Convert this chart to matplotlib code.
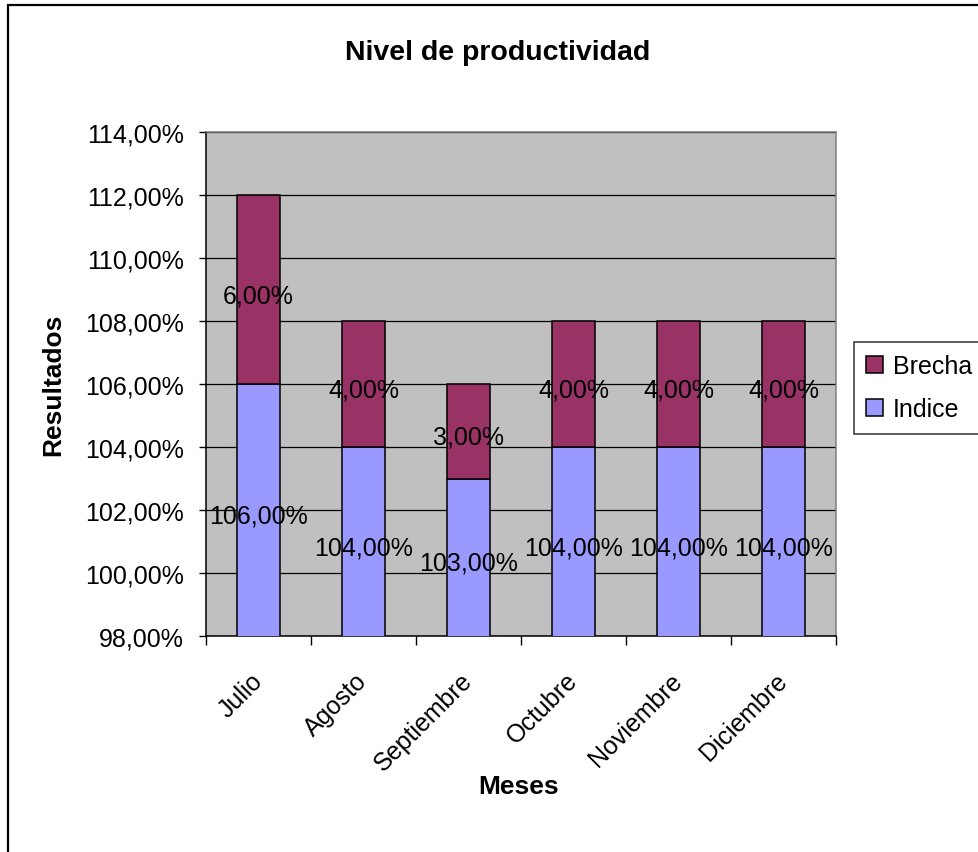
"""Stacked bar chart: Nivel de productividad por mes."""

import matplotlib

matplotlib.use("Agg")
import matplotlib.pyplot as plt
from matplotlib.patches import Rectangle
from matplotlib.ticker import FixedLocator, FuncFormatter

plt.rcParams["font.family"] = ["Liberation Sans", "DejaVu Sans"]

MESES = ["Julio", "Agosto", "Septiembre", "Octubre", "Noviembre", "Diciembre"]
INDICE = [106.0, 104.0, 103.0, 104.0, 104.0, 104.0]
BRECHA = [6.0, 4.0, 3.0, 4.0, 4.0, 4.0]
Y_TICKS = [98, 100, 102, 104, 106, 108, 110, 112, 114]

COLOR_INDICE = "#9999FF"
COLOR_BRECHA = "#993366"
PLOT_BG = "#C0C0C0"

W, H = 979, 853


def pct(value, _pos=None):
    return f"{value:.2f}".replace(".", ",") + "%"


fig = plt.figure(figsize=(W / 100, H / 100), dpi=100)
fig.patch.set_facecolor("white")

# chart border (only left and top edges fall inside the canvas)
fig.add_artist(Rectangle((8.5 / W, -0.1), 1.2, 1 - 5.5 / H + 0.1,
                         transform=fig.transFigure, fill=False,
                         edgecolor="black", linewidth=1.6))

ax = fig.add_axes([206 / W, 1 - 637 / H, (836 - 206) / W, (637 - 133) / H])
ax.set_facecolor(PLOT_BG)

x = list(range(len(MESES)))
ymin, ymax = Y_TICKS[0], Y_TICKS[-1]

ax.bar(x, INDICE, width=0.41, color=COLOR_INDICE, edgecolor="black",
       linewidth=1.1, label="Indice", zorder=3)
ax.bar(x, BRECHA, width=0.41, bottom=INDICE, color=COLOR_BRECHA,
       edgecolor="black", linewidth=1.1, label="Brecha", zorder=3)

# value labels sit in the middle of the visible part of each segment
for xi, base, gap in zip(x, INDICE, BRECHA):
    for y_mid, value in (((max(ymin, 0) + base) / 2, base),
                         (base + gap / 2, gap)):
        ax.annotate(pct(value), (xi, y_mid), xytext=(0, -4),
                    textcoords="offset points", ha="center", va="center",
                    fontsize=18, zorder=4)

ax.set_xlim(-0.5, len(MESES) - 0.5)
ax.set_ylim(ymin, ymax)
ax.yaxis.set_major_locator(FixedLocator(Y_TICKS))
ax.yaxis.set_major_formatter(FuncFormatter(pct))
ax.grid(axis="y", color="black", linewidth=0.9, zorder=1)
ax.set_axisbelow(True)

ax.set_xticks(x)
ax.set_xticklabels(MESES, rotation=45, ha="right", va="center",
                   rotation_mode="anchor")
ax.set_xticks([i - 0.5 for i in range(len(MESES) + 1)], minor=True)
ax.tick_params(axis="x", which="major", length=0, pad=29, labelsize=18)
ax.tick_params(axis="x", which="minor", length=6.5, width=1.0,
               direction="out")
ax.tick_params(axis="y", length=5, width=1.0, direction="out", pad=11,
               labelsize=18)

for side in ("left", "bottom"):
    ax.spines[side].set_color("black")
    ax.spines[side].set_linewidth(1.1)
for side in ("top", "right"):
    ax.spines[side].set_color("#808080")
    ax.spines[side].set_linewidth(1.1)

fig.text(498 / W, 1 - 53 / H, "Nivel de productividad", ha="center",
         va="center", fontsize=20.5, fontweight="bold")
fig.text(53 / W, 1 - 385 / H, "Resultados", ha="center", va="center",
         rotation=90, fontsize=19, fontweight="bold")
fig.text(519 / W, 1 - 787 / H, "Meses", ha="center", va="center",
         fontsize=19, fontweight="bold")

handles, labels = ax.get_legend_handles_labels()
leg = fig.legend(handles[::-1], labels[::-1], loc="upper left",
                 bbox_to_anchor=(854 / W, 1 - 343 / H), fontsize=18,
                 frameon=True, fancybox=False, shadow=False,
                 handlelength=0.66, handleheight=0.66, handletextpad=0.4,
                 borderpad=0.5, labelspacing=0.75, borderaxespad=0)
leg.get_frame().set_edgecolor("black")
leg.get_frame().set_linewidth(1.1)

fig.savefig("out.png", dpi=100)
